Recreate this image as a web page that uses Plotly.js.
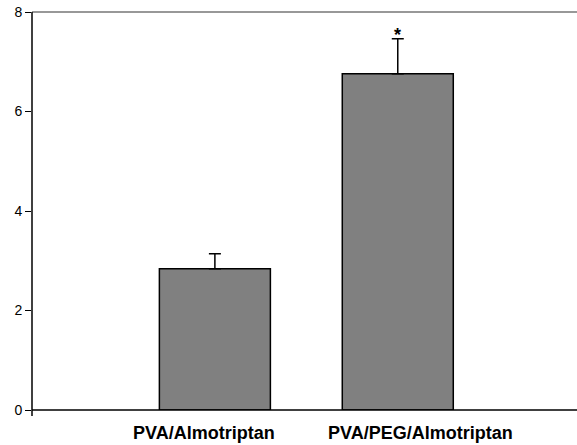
<!DOCTYPE html>
<html>
<head>
<meta charset="utf-8">
<script src="https://cdn.plot.ly/plotly-3.0.1.min.js"></script>
<style>html,body{margin:0;padding:0;background:#fff;overflow:hidden;}#chart{width:577px;height:445px;}</style>
</head>
<body>
<div id="chart"></div>
<script>
const categories = ['PVA/Almotriptan', 'PVA/PEG/Almotriptan'];
const values = [2.84, 6.76];
const errors = [0.30, 0.70];
const sigMarks = ['', '*'];
const yTicks = [0, 2, 4, 6, 8];

const FONT = 'Arial, Liberation Sans, sans-serif';
const labelShift = [-11, 23];

const trace = {
  type: 'bar',
  x: categories,
  y: values,
  width: 0.607,
  marker: {color: '#808080', line: {color: '#000', width: 1.5}},
  error_y: {type: 'data', symmetric: false, array: errors, arrayminus: errors.map(() => 0), color: '#000', thickness: 1.5, width: 6},
  hoverinfo: 'none'
};

const starAnn = categories.map((c, i) => ({
  x: c, y: values[i] + errors[i], text: sigMarks[i], showarrow: false,
  yanchor: 'bottom', yshift: -8, font: {family: FONT, size: 18, color: '#000', weight: 'bold'}
})).filter(a => a.text);

const labelAnn = categories.map((c, i) => ({
  x: c, y: 0, yref: 'paper', text: c, showarrow: false,
  yanchor: 'middle', yshift: -23, xshift: labelShift[i],
  font: {family: FONT, size: 18, color: '#000', weight: 'bold'}
}));

const layout = {
  width: 577, height: 445, autosize: false,
  margin: {l: 32, r: 0, t: 12, b: 35, pad: 0},
  paper_bgcolor: '#fff', plot_bgcolor: '#fff',
  showlegend: false,
  font: {family: FONT, color: '#000'},
  xaxis: {
    type: 'category', range: [-1, 1.98],
    showline: false, showgrid: false, zeroline: false, ticks: '', showticklabels: false
  },
  yaxis: {
    range: [0, 8], tickvals: yTicks, ticktext: yTicks.map(String),
    showline: false, showgrid: false, zeroline: false,
    ticks: 'outside', ticklen: 6, tickwidth: 1, tickcolor: '#000',
    tickfont: {size: 14, color: '#000'}
  },
  shapes: [
    {type: 'line', xref: 'paper', yref: 'paper', x0: 0, x1: 1, y0: 1, y1: 1, line: {color: '#333', width: 1.2}},
    {type: 'line', xref: 'paper', yref: 'paper', x0: 0, x1: 1, y0: 0, y1: 0, line: {color: '#000', width: 1.5}},
    {type: 'line', xref: 'paper', yref: 'paper', x0: 0, x1: 0, y0: 1, y1: -0.015, line: {color: '#000', width: 1.5}}
  ],
  annotations: starAnn.concat(labelAnn)
};

Plotly.newPlot('chart', [trace], layout, {staticPlot: true, displayModeBar: false});
</script>
</body>
</html>
